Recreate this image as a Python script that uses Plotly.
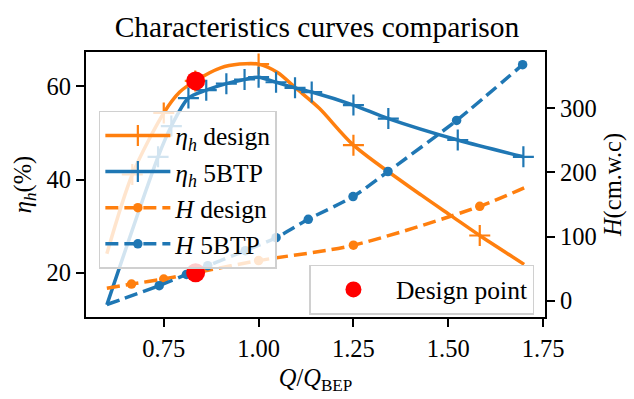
import plotly.graph_objects as go

# ---- data ----
# eta_h design (solid orange, '+' markers)
eta_design_x = [0.60, 0.667, 0.75, 0.792, 0.833, 0.90, 0.95, 1.00, 1.05, 1.10, 1.16, 1.25, 1.43, 1.51, 1.583, 1.70]
eta_design_y = [24.1, 41.1, 54.3, 58.8, 61.2, 64.0, 64.8, 64.8, 63.0, 59.5, 55.3, 47.4, 36.6, 32.1, 28.0, 21.8]
eta_design_mx = [0.667, 0.75, 0.833, 1.00, 1.25, 1.583]
eta_design_my = [41.1, 54.3, 61.2, 64.8, 47.4, 28.0]

# eta_h 5BTP (solid blue, '+' markers)
eta_5btp_x = [0.60, 0.735, 0.77, 0.815, 0.862, 0.915, 0.963, 1.00, 1.046, 1.096, 1.14, 1.25, 1.342, 1.525, 1.698]
eta_5btp_y = [13.1, 44.9, 51.5, 57.5, 59.2, 60.6, 61.5, 62.0, 60.9, 59.7, 58.8, 56.0, 53.1, 48.5, 44.9]
eta_5btp_mx = [0.735, 0.77, 0.815, 0.862, 0.915, 0.963, 1.00, 1.046, 1.096, 1.14, 1.25, 1.342, 1.525, 1.698]
eta_5btp_my = [44.9, 51.5, 57.5, 59.2, 60.6, 61.5, 62.0, 60.9, 59.7, 58.8, 56.0, 53.1, 48.5, 44.9]

# H design (dashed orange, dots)
h_design_x = [0.60, 0.665, 0.75, 0.833, 1.00, 1.25, 1.583, 1.70]
h_design_y = [19.3, 25.8, 33.8, 43.5, 62.5, 86.5, 147.2, 176.0]
h_design_mx = [0.665, 0.75, 0.833, 1.00, 1.25, 1.583]
h_design_my = [25.8, 33.8, 43.5, 62.5, 86.5, 147.2]

# H 5BTP (dashed blue, dots)
h_5btp_x = [0.60, 0.738, 0.81, 0.866, 0.965, 1.046, 1.131, 1.249, 1.341, 1.522, 1.696]
h_5btp_y = [-6.0, 23.4, 41.0, 54.6, 78.0, 98.2, 127.0, 162.4, 201.4, 281.3, 368.3]
h_5btp_mx = [0.738, 0.81, 0.866, 0.965, 1.046, 1.131, 1.249, 1.341, 1.522, 1.696]
h_5btp_my = [23.4, 41.0, 54.6, 78.0, 98.2, 127.0, 162.4, 201.4, 281.3, 368.3]

# design point
design_q = [0.834]
design_eta = [61.2]
design_h = [43.5]

x_ticks = [0.75, 1.00, 1.25, 1.50, 1.75]
x_ticklabels = ["0.75", "1.00", "1.25", "1.50", "1.75"]
eta_ticks = [20, 40, 60]
h_ticks = [0, 100, 200, 300]

# ---- styles ----
BLUE = "#1f77b4"
ORANGE = "#ff7f0e"
FONT = "Liberation Serif"
FS = 24.5
LFS = 25.5
LW = 3.5
DASH = "13px,6px"
PLUS_SIZE = 15
PLUS_W = 2.2
DOT = 9.5

fig = go.Figure()

def add_series(x, y, mx, my, color, dash, marker_kind, name, yaxis):
    fig.add_trace(go.Scatter(x=x, y=y, mode="lines", yaxis=yaxis, showlegend=False,
                             line=dict(color=color, width=LW, dash=dash, shape="spline", smoothing=0.8),
                             hoverinfo="skip"))
    if marker_kind == "plus":
        mk = dict(symbol="cross-thin", size=PLUS_SIZE, line=dict(width=PLUS_W, color=color), color=color)
    else:
        mk = dict(symbol="circle", size=DOT, color=color, line=dict(width=0))
    fig.add_trace(go.Scatter(x=mx, y=my, mode="markers", yaxis=yaxis, showlegend=False, marker=mk))
    fig.add_trace(go.Scatter(x=[None], y=[None], mode="lines+markers", yaxis=yaxis, name=name,
                             line=dict(color=color, width=LW, dash=dash), marker=mk, legend="legend"))

add_series(eta_design_x, eta_design_y, eta_design_mx, eta_design_my, ORANGE, "solid", "plus",
           "<i>η</i><sub><i>h</i></sub> design", "y")
add_series(eta_5btp_x, eta_5btp_y, eta_5btp_mx, eta_5btp_my, BLUE, "solid", "plus",
           "<i>η</i><sub><i>h</i></sub> 5BTP", "y")
add_series(h_design_x, h_design_y, h_design_mx, h_design_my, ORANGE, DASH, "dot",
           "<i>H</i> design", "y2")
add_series(h_5btp_x, h_5btp_y, h_5btp_mx, h_5btp_my, BLUE, DASH, "dot",
           "<i>H</i> 5BTP", "y2")

fig.add_trace(go.Scatter(x=design_q, y=design_eta, mode="markers", yaxis="y", name="Design point",
                         marker=dict(color="red", size=19), legend="legend2"))
fig.add_trace(go.Scatter(x=design_q, y=design_h, mode="markers", yaxis="y2", showlegend=False,
                         marker=dict(color="red", size=19)))

axis_common = dict(showline=True, linecolor="black", linewidth=2.2, ticks="outside", ticklen=8,
                   tickwidth=2.2, tickcolor="black", showgrid=False, zeroline=False,
                   tickfont=dict(family=FONT, size=FS, color="black"))

fig.update_layout(
    width=634, height=399,
    margin=dict(l=86, r=88, t=52, b=74),
    paper_bgcolor="white", plot_bgcolor="white",
    font=dict(family=FONT, size=FS, color="black"),
    title=dict(text="Characteristics curves comparison", x=0.5, xanchor="center",
               y=1 - 27 / 399, yanchor="middle", yref="container",
               font=dict(family=FONT, size=29.5, color="black")),
    xaxis=dict(range=[0.545, 1.755], tickvals=x_ticks, ticktext=x_ticklabels, mirror=True,
               title=dict(text="<i>Q</i>/<i>Q</i><sub>BEP</sub>", standoff=8,
                          font=dict(family=FONT, size=FS)), **axis_common),
    yaxis=dict(range=[10.5, 67.4], tickvals=eta_ticks,
               title=dict(text="<i>η</i><sub><i>h</i></sub>(%)", standoff=8,
                          font=dict(family=FONT, size=FS)), **axis_common),
    yaxis2=dict(range=[-25.5, 388], tickvals=h_ticks, overlaying="y", side="right",
                title=dict(text="<i>H</i>(cm.w.c)", standoff=8, font=dict(family=FONT, size=FS)),
                **axis_common),
    legend=dict(x=0.028, y=0.778, xanchor="left", yanchor="top", bgcolor="rgba(255,255,255,0.8)",
                bordercolor="#d0d0d0", borderwidth=1.5, font=dict(family=FONT, size=LFS),
                traceorder="normal", itemwidth=65),
    legend2=dict(x=0.977, y=0.008, xanchor="right", yanchor="bottom", bgcolor="rgba(255,255,255,0.8)",
                 bordercolor="#d0d0d0", borderwidth=1.5, font=dict(family=FONT, size=LFS), itemwidth=75),
    showlegend=True,
)

fig.write_html("out.html")
